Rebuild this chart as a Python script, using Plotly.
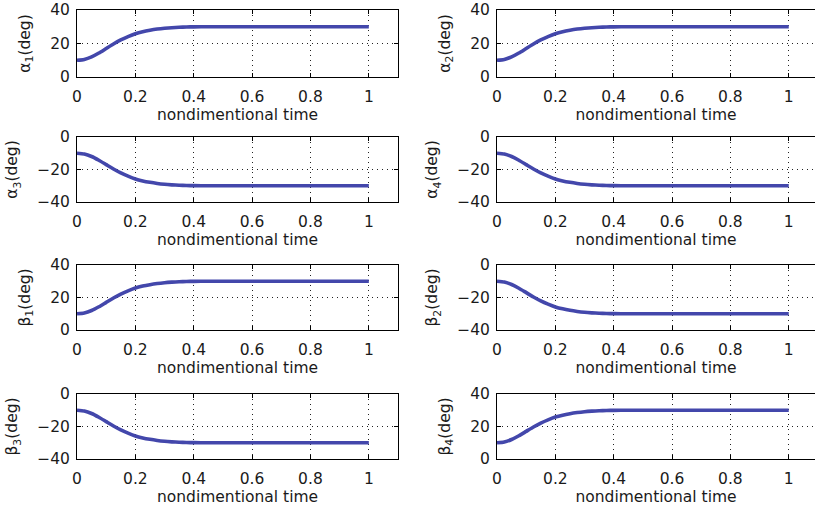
import plotly.graph_objects as go

# ---- data ----
t = [0.0, 0.025, 0.05, 0.075, 0.1, 0.125, 0.15, 0.175, 0.2, 0.225, 0.25, 0.275,
     0.3, 0.325, 0.35, 0.375, 0.4, 0.45, 0.5, 0.6, 0.7, 0.8, 0.9, 1.0]

alpha1 = [10.0, 10.5, 12.0, 14.3, 17.0, 19.7, 22.1, 24.1, 25.8, 27.0, 27.9, 28.6,
          29.1, 29.45, 29.7, 29.85, 29.95, 30.0, 30.0, 30.0, 30.0, 30.0, 30.0, 30.0]
alpha2 = [10.0, 10.5, 12.0, 14.3, 17.0, 19.7, 22.1, 24.1, 25.8, 27.0, 27.9, 28.6,
          29.1, 29.45, 29.7, 29.85, 29.95, 30.0, 30.0, 30.0, 30.0, 30.0, 30.0, 30.0]
alpha3 = [-10.0, -10.5, -12.0, -14.3, -17.0, -19.7, -22.1, -24.1, -25.8, -27.0, -27.9, -28.6,
          -29.1, -29.45, -29.7, -29.85, -29.95, -30.0, -30.0, -30.0, -30.0, -30.0, -30.0, -30.0]
alpha4 = [-10.0, -10.5, -12.0, -14.3, -17.0, -19.7, -22.1, -24.1, -25.8, -27.0, -27.9, -28.6,
          -29.1, -29.45, -29.7, -29.85, -29.95, -30.0, -30.0, -30.0, -30.0, -30.0, -30.0, -30.0]
beta1 = [10.0, 10.5, 12.0, 14.3, 17.0, 19.7, 22.1, 24.1, 25.8, 27.0, 27.9, 28.6,
         29.1, 29.45, 29.7, 29.85, 29.95, 30.0, 30.0, 30.0, 30.0, 30.0, 30.0, 30.0]
beta2 = [-10.0, -10.5, -12.0, -14.3, -17.0, -19.7, -22.1, -24.1, -25.8, -27.0, -27.9, -28.6,
         -29.1, -29.45, -29.7, -29.85, -29.95, -30.0, -30.0, -30.0, -30.0, -30.0, -30.0, -30.0]
beta3 = [-10.0, -10.5, -12.0, -14.3, -17.0, -19.7, -22.1, -24.1, -25.8, -27.0, -27.9, -28.6,
         -29.1, -29.45, -29.7, -29.85, -29.95, -30.0, -30.0, -30.0, -30.0, -30.0, -30.0, -30.0]
beta4 = [10.0, 10.5, 12.0, 14.3, 17.0, 19.7, 22.1, 24.1, 25.8, 27.0, 27.9, 28.6,
         29.1, 29.45, 29.7, 29.85, 29.95, 30.0, 30.0, 30.0, 30.0, 30.0, 30.0, 30.0]

x_ticks = [0, 0.2, 0.4, 0.6, 0.8, 1.0]
x_tick_labels = ["0", "0.2", "0.4", "0.6", "0.8", "1"]
pos_ticks = [0, 20, 40]
neg_ticks = [-40, -20, 0]
x_title = "nondimentional time"

panels = [
    ("α<sub>1</sub>(deg)", alpha1, "pos"),
    ("α<sub>2</sub>(deg)", alpha2, "pos"),
    ("α<sub>3</sub>(deg)", alpha3, "neg"),
    ("α<sub>4</sub>(deg)", alpha4, "neg"),
    ("β<sub>1</sub>(deg)", beta1, "pos"),
    ("β<sub>2</sub>(deg)", beta2, "neg"),
    ("β<sub>3</sub>(deg)", beta3, "neg"),
    ("β<sub>4</sub>(deg)", beta4, "pos"),
]

# ---- layout geometry ----
W, H = 815, 511
col_px = [(77, 398), (497, 815)]
row_px = [(10, 77), (137, 202), (265, 330), (394, 459)]
FONT = "DejaVu Sans"
FS = 15.5
LINE_COLOR = "#4347ab"
TXT = "#1a1a1a"

fig = go.Figure()
layout = dict(
    width=W, height=H,
    margin=dict(l=0, r=0, t=0, b=0, autoexpand=False),
    paper_bgcolor="white", plot_bgcolor="white",
    showlegend=False,
    font=dict(family=FONT, size=FS, color=TXT),
)

for i, (ylab, vals, kind) in enumerate(panels):
    r, c = divmod(i, 2)
    n = i + 1
    xa = "xaxis" if n == 1 else f"xaxis{n}"
    ya = "yaxis" if n == 1 else f"yaxis{n}"
    xref = "x" if n == 1 else f"x{n}"
    yref = "y" if n == 1 else f"y{n}"
    fig.add_trace(go.Scatter(
        x=t, y=vals, mode="lines", xaxis=xref, yaxis=yref,
        line=dict(color=LINE_COLOR, width=3.6, shape="spline", smoothing=0.6),
        hoverinfo="skip",
    ))
    x0, x1 = col_px[c]
    y0, y1 = row_px[r]
    xmax = 1.1 if c == 0 else 1.09
    yticks = pos_ticks if kind == "pos" else neg_ticks
    layout[xa] = dict(
        domain=[x0 / W, x1 / W], anchor=yref, range=[0, xmax],
        tickvals=x_ticks, ticktext=x_tick_labels,
        ticks="inside", ticklen=4, tickcolor="#000",
        showline=True, linecolor="#000", linewidth=1, mirror="ticks",
        showgrid=True, gridcolor="#222", griddash="1px,4px", gridwidth=1,
        zeroline=False, ticklabelstandoff=5, automargin=False,
        tickfont=dict(family=FONT, size=FS, color=TXT),
        title=dict(text=x_title, standoff=2, font=dict(family=FONT, size=FS, color=TXT)),
    )
    layout[ya] = dict(
        domain=[1 - y1 / H, 1 - y0 / H], anchor=xref,
        range=[yticks[0], yticks[-1]], tickvals=yticks,
        ticks="inside", ticklen=4, tickcolor="#000",
        showline=True, linecolor="#000", linewidth=1,
        mirror="ticks" if c == 0 else False,
        showgrid=True, gridcolor="#222", griddash="1px,4px", gridwidth=1,
        zeroline=False, ticklabelstandoff=3, automargin=False,
        tickfont=dict(family=FONT, size=FS, color=TXT),
        title=dict(text=ylab, standoff=15, font=dict(family=FONT, size=FS, color=TXT)),
    )

fig.update_layout(**layout)
fig.write_html("out.html", config={"displayModeBar": False},
               post_script="document.body.style.margin='0px';document.body.style.overflow='hidden';")
